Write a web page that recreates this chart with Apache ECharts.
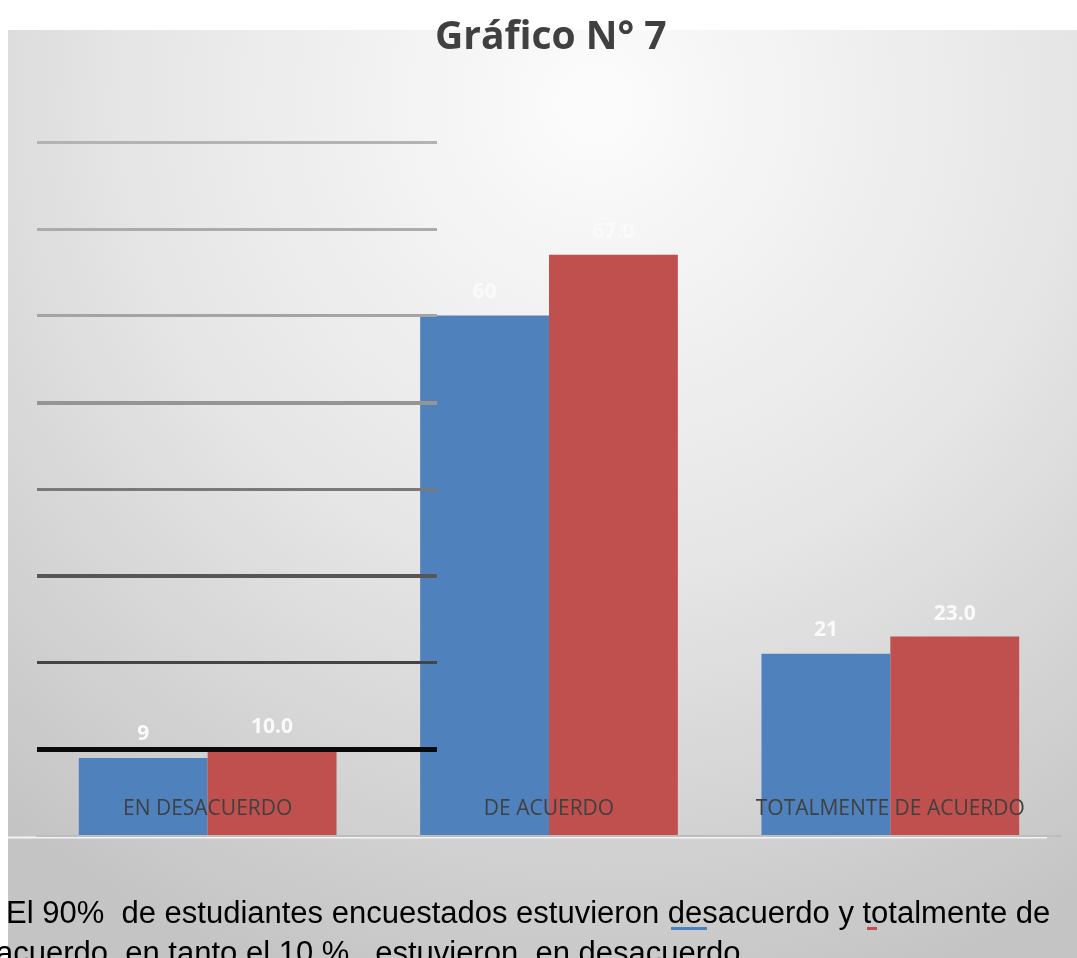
<!DOCTYPE html>
<html>
<head>
<meta charset="utf-8">
<script src="https://cdn.jsdelivr.net/npm/echarts@6/dist/echarts.min.js"></script>
<style>
html,body{margin:0;padding:0;background:#fff;}
#chart{width:1077px;height:958px;}
</style>
</head>
<body>
<div id="chart"></div>
<script>
// ---- data ----
const categories = ['EN DESACUERDO', 'DE ACUERDO', 'TOTALMENTE DE ACUERDO'];
const serie1 = [9, 60, 21];
const serie2 = [10.0, 67.0, 23.0];
const gridTicks = [10, 20, 30, 40, 50, 60, 70, 80];
const titleText = 'Gráfico N° 7';
const noteLine1 = 'El 90%  de estudiantes encuestados estuvieron desacuerdo y totalmente de';
const noteLine2 = 'acuerdo, en tanto el 10 %   estuvieron  en desacuerdo';

// ---- styles ----
const tickLineColors = ['#0a0a0a', '#444444', '#565656', '#797979', '#959595', '#a4a4a4', '#ababab', '#b3b3b3'];
const tickLineWidths = [5, 3, 4, 3, 4, 3, 3, 3];

const chart = echarts.init(document.getElementById('chart'), null, {renderer: 'canvas'});

const option = {
  animation: false,
  backgroundColor: '#ffffff',
  title: {
    text: titleText,
    left: 430,
    top: 13,
    textStyle: {fontFamily: 'Open Sans', fontWeight: 'bold', fontSize: 39, color: '#404040'}
  },
  graphic: [
    {
      type: 'rect', z: -10, silent: true,
      shape: {x: 8, y: 30, width: 1069, height: 928},
      style: {
        fill: {
          type: 'radial', x: 0.55, y: 0.08, r: 1.0,
          colorStops: [
            {offset: 0, color: '#fcfcfc'},
            {offset: 0.5, color: '#e6e6e6'},
            {offset: 1, color: '#c4c4c4'}
          ]
        }
      }
    },
    {
      type: 'line', z: 5, silent: true,
      shape: {x1: 8, y1: 837.5, x2: 1047, y2: 837.5},
      style: {stroke: '#f4f4f4', lineWidth: 2}
    },
    {
      type: 'text', z: 10, silent: true,
      style: {text: noteLine1, x: 6, y: 914, verticalAlign: 'middle',
        font: '31px "Liberation Sans", Arial, sans-serif', fill: '#000000'}
    },
    {
      type: 'text', z: 10, silent: true,
      style: {text: noteLine2, x: -4, y: 954, verticalAlign: 'middle',
        font: '31px "Liberation Sans", Arial, sans-serif', fill: '#000000'}
    },
    {
      type: 'rect', z: 11, silent: true,
      shape: {x: 671, y: 927, width: 36, height: 3},
      style: {fill: '#4f81bd'}
    },
    {
      type: 'rect', z: 11, silent: true,
      shape: {x: 867, y: 927, width: 10, height: 3},
      style: {fill: '#c0504d'}
    }
  ],
  grid: [
    {left: 37, right: 16, top: 142, bottom: 122},
    {left: 37, right: 640, top: 142, bottom: 122}
  ],
  xAxis: [
    {
      type: 'category', gridIndex: 0, data: categories,
      axisLine: {show: true, lineStyle: {color: '#bdbdbd', width: 2}},
      axisTick: {show: false},
      axisLabel: {inside: true, interval: 0, margin: 16, fontFamily: 'Open Sans', fontSize: 21, color: '#404040'},
      z: 10
    },
    {type: 'category', gridIndex: 1, data: [''], show: false}
  ],
  yAxis: [
    {type: 'value', gridIndex: 0, min: 0, max: 80, interval: 10, show: false, splitLine: {show: false}},
    {type: 'value', gridIndex: 1, min: 0, max: 80, interval: 10, show: false, splitLine: {show: false}}
  ],
  series: [
    {
      name: 'Serie 1', type: 'bar', xAxisIndex: 0, yAxisIndex: 0,
      data: serie1, barGap: '0%', barCategoryGap: '24.5%',
      itemStyle: {color: '#4f81bd'},
      label: {show: true, position: 'top', distance: 13, fontFamily: 'Open Sans', fontWeight: 'bold', fontSize: 21, color: '#fafafa'},
      z: 3
    },
    {
      name: 'Serie 2', type: 'bar', xAxisIndex: 0, yAxisIndex: 0,
      data: serie2, barGap: '0%', barCategoryGap: '24.5%',
      itemStyle: {color: '#c0504d'},
      label: {show: true, position: 'top', distance: 12, fontFamily: 'Open Sans', fontWeight: 'bold', fontSize: 21, color: '#fafafa',
        formatter: p => Number(p.value).toFixed(1)},
      z: 3
    },
    {
      name: 'guide', type: 'line', xAxisIndex: 1, yAxisIndex: 1,
      data: [null], symbol: 'none', silent: true, z: 1,
      markLine: {
        silent: true, symbol: 'none', animation: false,
        label: {show: false},
        data: gridTicks.map((v, i) => ({yAxis: v, lineStyle: {color: tickLineColors[i], width: tickLineWidths[i], type: 'solid'}}))
      }
    }
  ]
};
chart.setOption(option);
</script>
</body>
</html>
